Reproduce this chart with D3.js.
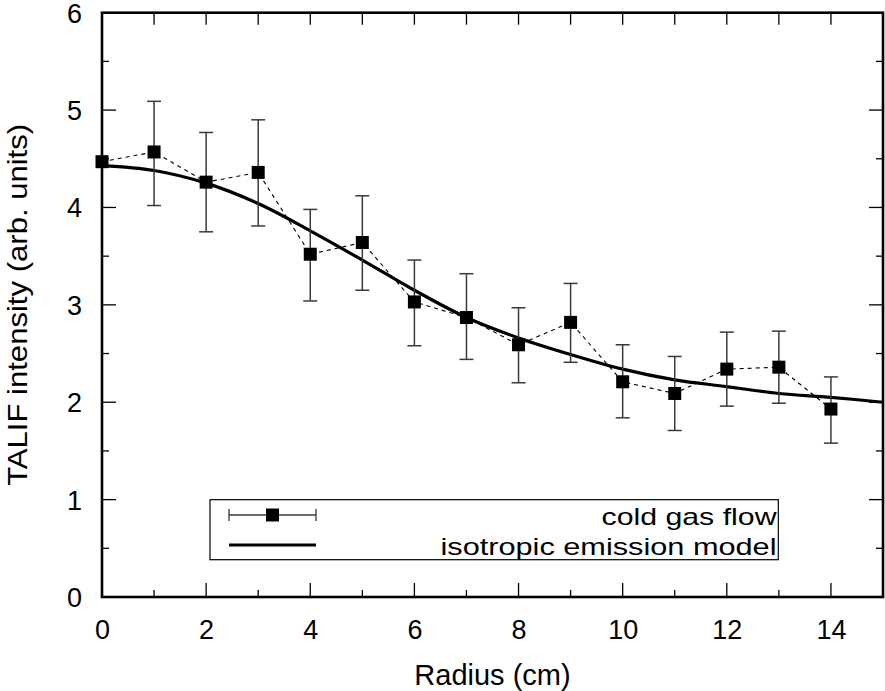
<!DOCTYPE html>
<html>
<head>
<meta charset="utf-8">
<script src="https://cdn.jsdelivr.net/npm/d3@7"></script>
<style>
  html, body { margin: 0; padding: 0; background: #fff; }
  svg { display: block; font-family: "Liberation Sans", Arial, Helvetica, sans-serif; }
</style>
</head>
<body>
<svg id="chart" width="885" height="691"></svg>
<script>
// ---- data ----
const radius = [0, 1, 2, 3, 4, 5, 6, 7, 8, 9, 10, 11, 12, 13, 14];
const intensity = [4.47, 4.57, 4.26, 4.36, 3.52, 3.64, 3.03, 2.87, 2.59, 2.82, 2.21, 2.09, 2.34, 2.36, 1.93];
const errLow  = [null, 4.02, 3.75, 3.81, 3.04, 3.15, 2.58, 2.44, 2.20, 2.41, 1.84, 1.71, 1.96, 1.99, 1.58];
const errHigh = [null, 5.09, 4.77, 4.90, 3.98, 4.12, 3.46, 3.32, 2.97, 3.22, 2.59, 2.47, 2.72, 2.73, 2.26];
const modelX = [0, 1, 2, 3, 4, 5, 6, 7, 8, 9, 10, 11, 12, 13, 14, 15];
const modelY = [4.43, 4.38, 4.25, 4.04, 3.76, 3.46, 3.15, 2.87, 2.66, 2.49, 2.34, 2.23, 2.16, 2.09, 2.05, 2.00];
const xTicks = [0, 2, 4, 6, 8, 10, 12, 14];
const xMinorTicks = [1, 3, 5, 7, 9, 11, 13, 15];
const yTicks = [0, 1, 2, 3, 4, 5, 6];
const yMinorTicks = [0.5, 1.5, 2.5, 3.5, 4.5, 5.5];
const seriesNames = ["cold gas flow", "isotropic emission model"];
const xTitle = "Radius (cm)";
const yTitle = "TALIF intensity (arb. units)";

// ---- layout ----
const L = 102, R = 883, T = 12.7, B = 597;
const svg = d3.select("#chart");
const x = d3.scaleLinear().domain([0, 15]).range([L, R]);
const y = d3.scaleLinear().domain([0, 6]).range([B, T]);

// ticks (major + minor) on all four sides, pointing inward
const tickG = svg.append("g").attr("stroke", "#000").attr("stroke-width", 1.3);
const majLen = 14, minLen = 7;
xTicks.forEach(v => {
  tickG.append("line").attr("x1", x(v)).attr("x2", x(v)).attr("y1", B).attr("y2", B - majLen);
  tickG.append("line").attr("x1", x(v)).attr("x2", x(v)).attr("y1", T).attr("y2", T + 12);
});
xMinorTicks.forEach(v => {
  tickG.append("line").attr("x1", x(v)).attr("x2", x(v)).attr("y1", B).attr("y2", B - minLen);
  tickG.append("line").attr("x1", x(v)).attr("x2", x(v)).attr("y1", T).attr("y2", T + 12);
});
yTicks.forEach(v => {
  tickG.append("line").attr("y1", y(v)).attr("y2", y(v)).attr("x1", L).attr("x2", L + majLen);
  tickG.append("line").attr("y1", y(v)).attr("y2", y(v)).attr("x1", R).attr("x2", R - majLen);
});
yMinorTicks.forEach(v => {
  tickG.append("line").attr("y1", y(v)).attr("y2", y(v)).attr("x1", L).attr("x2", L + minLen);
  tickG.append("line").attr("y1", y(v)).attr("y2", y(v)).attr("x1", R).attr("x2", R - minLen);
});

// tick labels
const xAxis = d3.axisBottom(x).tickValues(xTicks).tickSize(0).tickPadding(0).tickFormat(d3.format("d"));
const gx = svg.append("g").attr("transform", `translate(0,${B})`).call(xAxis);
gx.select(".domain").remove();
gx.selectAll("text").attr("font-size", 27).attr("fill", "#000")
  .attr("font-family", "Liberation Sans, Arial, sans-serif")
  .attr("dy", null).attr("y", 42);

const yAxis = d3.axisLeft(y).tickValues(yTicks).tickSize(0).tickPadding(0).tickFormat(d3.format("d"));
const gy = svg.append("g").attr("transform", `translate(${L},0)`).call(yAxis);
gy.select(".domain").remove();
gy.selectAll("text").attr("font-size", 27).attr("fill", "#000")
  .attr("font-family", "Liberation Sans, Arial, sans-serif")
  .attr("x", -20).attr("dy", "0.35em");

// model curve
const line = d3.line().x((d, i) => x(modelX[i])).y(d => y(d)).curve(d3.curveCatmullRom.alpha(0.5));
svg.append("path").datum(modelY).attr("d", line)
  .attr("fill", "none").attr("stroke", "#000").attr("stroke-width", 3.2);

// dashed connecting line
const dline = d3.line().x((d, i) => x(radius[i])).y(d => y(d));
svg.append("path").datum(intensity).attr("d", dline)
  .attr("fill", "none").attr("stroke", "#000").attr("stroke-width", 1.1).attr("stroke-dasharray", "4,4");

// error bars
const capW = 7;
const eb = svg.append("g").attr("stroke", "#3a3a3a").attr("stroke-width", 1.5);
radius.forEach((r, i) => {
  if (errLow[i] == null) return;
  const cx = x(r);
  eb.append("line").attr("x1", cx).attr("x2", cx).attr("y1", y(errLow[i])).attr("y2", y(errHigh[i]));
  eb.append("line").attr("x1", cx - capW).attr("x2", cx + capW).attr("y1", y(errLow[i])).attr("y2", y(errLow[i]));
  eb.append("line").attr("x1", cx - capW).attr("x2", cx + capW).attr("y1", y(errHigh[i])).attr("y2", y(errHigh[i]));
});

// markers
const ms = 13;
svg.append("g").selectAll("rect").data(intensity).join("rect")
  .attr("x", (d, i) => x(radius[i]) - ms / 2)
  .attr("y", d => y(d) - ms / 2)
  .attr("width", ms).attr("height", ms).attr("fill", "#000");

// frame
svg.append("rect").attr("x", L).attr("y", T).attr("width", R - L).attr("height", B - T)
  .attr("fill", "none").attr("stroke", "#000").attr("stroke-width", 2.6);

// axis titles
svg.append("text").attr("x", (L + R) / 2).attr("y", 685).attr("text-anchor", "middle")
  .attr("font-size", 29).attr("fill", "#000").text(xTitle);
svg.append("text").attr("transform", `translate(27,${(T + B) / 2}) rotate(-90)`)
  .attr("text-anchor", "middle").attr("font-size", 28).attr("fill", "#000")
  .attr("textLength", 362).attr("lengthAdjust", "spacingAndGlyphs").text(yTitle);

// legend
const lg = svg.append("g");
lg.append("rect").attr("x", 210).attr("y", 499.7).attr("width", 568.3).attr("height", 60)
  .attr("fill", "#fff").attr("stroke", "#000").attr("stroke-width", 1.2);
const r1 = 515, r2 = 545, sx1 = 229, sx2 = 316;
const leg1 = lg.append("g").attr("stroke", "#3a3a3a").attr("stroke-width", 1.3);
leg1.append("line").attr("x1", sx1).attr("x2", sx2).attr("y1", r1).attr("y2", r1);
leg1.append("line").attr("x1", sx1).attr("x2", sx1).attr("y1", r1 - 6).attr("y2", r1 + 6);
leg1.append("line").attr("x1", sx2).attr("x2", sx2).attr("y1", r1 - 6).attr("y2", r1 + 6);
lg.append("rect").attr("x", (sx1 + sx2) / 2 - 6.5).attr("y", r1 - 6.5).attr("width", 13).attr("height", 13).attr("fill", "#000");
lg.append("line").attr("x1", sx1).attr("x2", sx2).attr("y1", r2).attr("y2", r2)
  .attr("stroke", "#000").attr("stroke-width", 3.2);
lg.append("text").attr("x", 776.5).attr("y", 525).attr("text-anchor", "end")
  .attr("font-size", 24).attr("fill", "#000")
  .attr("textLength", 175).attr("lengthAdjust", "spacingAndGlyphs").text(seriesNames[0]);
lg.append("text").attr("x", 776.5).attr("y", 554.5).attr("text-anchor", "end")
  .attr("font-size", 24).attr("fill", "#000")
  .attr("textLength", 336).attr("lengthAdjust", "spacingAndGlyphs").text(seriesNames[1]);
</script>
</body>
</html>
